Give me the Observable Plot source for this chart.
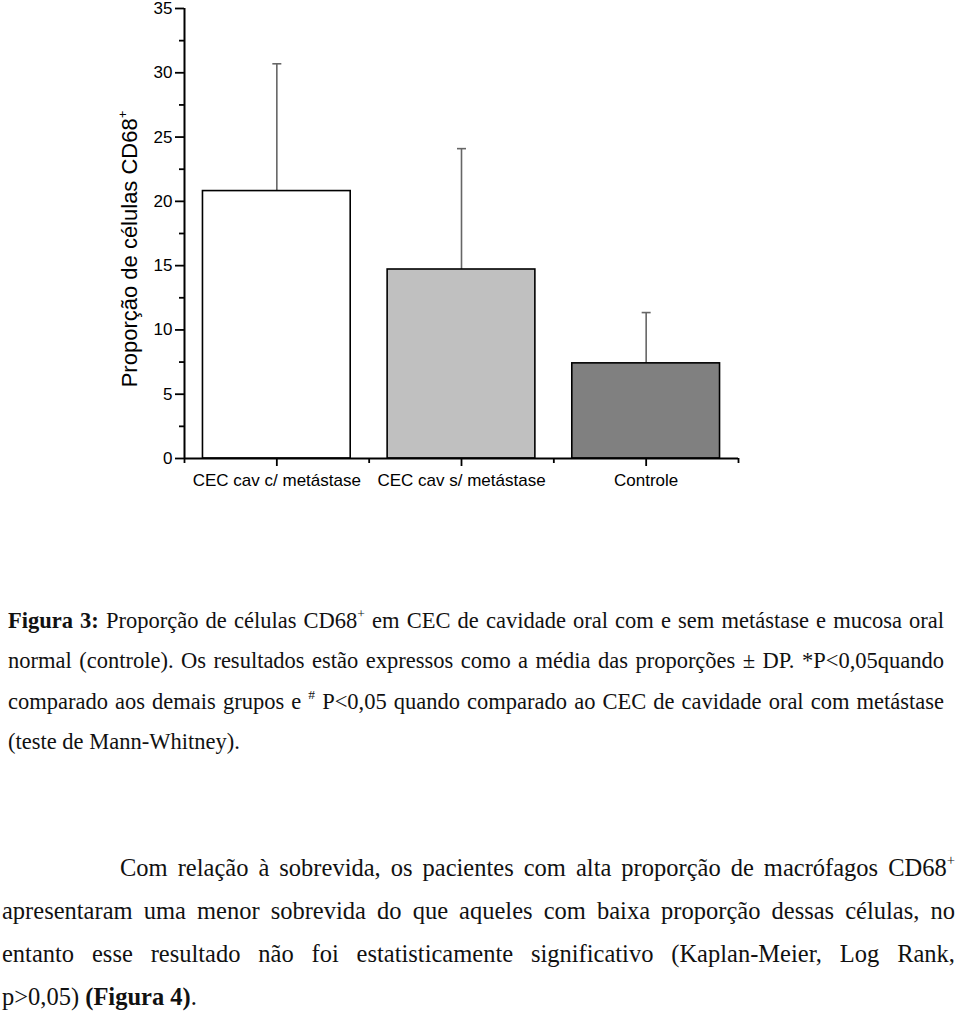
<!DOCTYPE html>
<html>
<head>
<meta charset="utf-8">
<script src="https://cdn.jsdelivr.net/npm/d3@7"></script>
<script src="https://cdn.jsdelivr.net/npm/@observablehq/plot@0.6"></script>
<style>
  html, body { margin: 0; padding: 0; background: #fff; }
  body { width: 960px; height: 1016px; position: relative; overflow: hidden; }
  #chart { position: absolute; left: 0; top: 0; }
  .cap { position: absolute; left: 8px; width: 936px; top: 601px;
         font-family: "Liberation Serif", "Times New Roman", serif; font-size: 22.5px;
         line-height: 40.3px; color: #111; }
  .para { position: absolute; left: 2px; width: 953px; top: 846px;
          font-family: "Liberation Serif", "Times New Roman", serif; font-size: 24.5px;
          line-height: 43px; color: #111; }
  .j { text-align: justify; text-align-last: justify; white-space: nowrap; }
  .l { text-align: left; white-space: nowrap; }
  sup { font-size: 0.6em; line-height: 0; vertical-align: 0.75em; }
</style>
</head>
<body>
<div id="chart"></div>
<div class="cap">
  <div class="j"><b>Figura 3:</b> Proporção de células CD68<sup>+</sup> em CEC de cavidade oral com e sem metástase e mucosa oral</div>
  <div class="j">normal (controle). Os resultados estão expressos como a média das proporções ± DP. *P&lt;0,05quando</div>
  <div class="j">comparado aos demais grupos e <sup>#</sup> P&lt;0,05 quando comparado ao CEC de cavidade oral com metástase</div>
  <div class="l">(teste de Mann-Whitney).</div>
</div>
<div class="para">
  <div class="j" style="padding-left:118px">Com relação à sobrevida, os pacientes com alta proporção de macrófagos CD68<sup>+</sup></div>
  <div class="j">apresentaram uma menor sobrevida do que aqueles com baixa proporção dessas células, no</div>
  <div class="j">entanto esse resultado não foi estatisticamente significativo (Kaplan-Meier, Log Rank,</div>
  <div class="l">p&gt;0,05) <b>(Figura 4)</b>.</div>
</div>
<script>
// ---- data ----
const categories = ["CEC cav c/ metástase", "CEC cav s/ metástase", "Controle"];
const means = [20.8, 14.7, 7.4];
const sds = [9.9, 9.4, 3.95];
const fills = ["#ffffff", "#c0c0c0", "#808080"];
const yMajorTicks = [0, 5, 10, 15, 20, 25, 30, 35];
const yMinorTicks = [2.5, 7.5, 12.5, 17.5, 22.5, 27.5, 32.5];

const rows = categories.map((c, i) => ({i, category: c, mean: means[i], sd: sds[i], fill: fills[i]}));
const half = 0.4; // half bar width in category steps
const xMinorTicks = [-0.5, ...categories.map((c, i) => i + 0.5)];

const capSymbol = {
  draw(context, size) {
    const r = 4.5;
    context.moveTo(-r, 0);
    context.lineTo(r, 0);
  }
};

const plot = Plot.plot({
  width: 960,
  height: 500,
  marginLeft: 184,
  marginRight: 222,
  marginTop: 8,
  marginBottom: 42,
  style: {fontFamily: "'Liberation Sans', Arial, sans-serif", fontSize: "17px", color: "#000", background: "transparent"},
  x: {type: "linear", domain: [-0.5, categories.length - 0.5]},
  y: {domain: [0, 35]},
  marks: [
    // error bars (behind bars)
    Plot.ruleX(rows, {x: "i", y1: "mean", y2: d => d.mean + d.sd, stroke: "#666", strokeWidth: 1.6}),
    Plot.dot(rows, {x: "i", y: d => d.mean + d.sd, symbol: capSymbol, stroke: "#666", strokeWidth: 1.6, fill: "none", r: 4.5}),
    // bars
    Plot.rect(rows, {x1: d => d.i - half, x2: d => d.i + half, y1: 0, y2: "mean", fill: d => d.fill, stroke: "#000", strokeWidth: 1.6}),
    // axes
    Plot.axisY({ticks: yMajorTicks, tickSize: 9, tickPadding: 3, strokeWidth: 1.8, fontSize: 17, label: null}),
    Plot.axisY({ticks: yMinorTicks, tickSize: 5, strokeWidth: 1.8, tickFormat: () => "", label: null}),
    Plot.axisX({ticks: categories.map((c, i) => i), tickFormat: i => categories[i], tickSize: 8, tickPadding: 7, strokeWidth: 1.8, fontSize: 17, label: null}),
    Plot.axisX({ticks: xMinorTicks, tickSize: 5, strokeWidth: 1.8, tickFormat: () => "", label: null}),
    Plot.ruleY([0], {stroke: "#000", strokeWidth: 2}),
    Plot.ruleX([-0.5], {stroke: "#000", strokeWidth: 2})
  ]
});

// y-axis title with superscript
const svg = d3.select(plot);
const t = svg.append("text")
  .attr("transform", "translate(137,249) rotate(-90)")
  .attr("text-anchor", "middle")
  .attr("font-family", "'Liberation Sans', Arial, sans-serif")
  .attr("font-size", 22)
  .attr("fill", "#000");
t.append("tspan").text("Proporção de células CD68");
t.append("tspan").attr("font-size", 13).attr("dy", -10).text("+");

document.getElementById("chart").appendChild(plot);
</script>
</body>
</html>
